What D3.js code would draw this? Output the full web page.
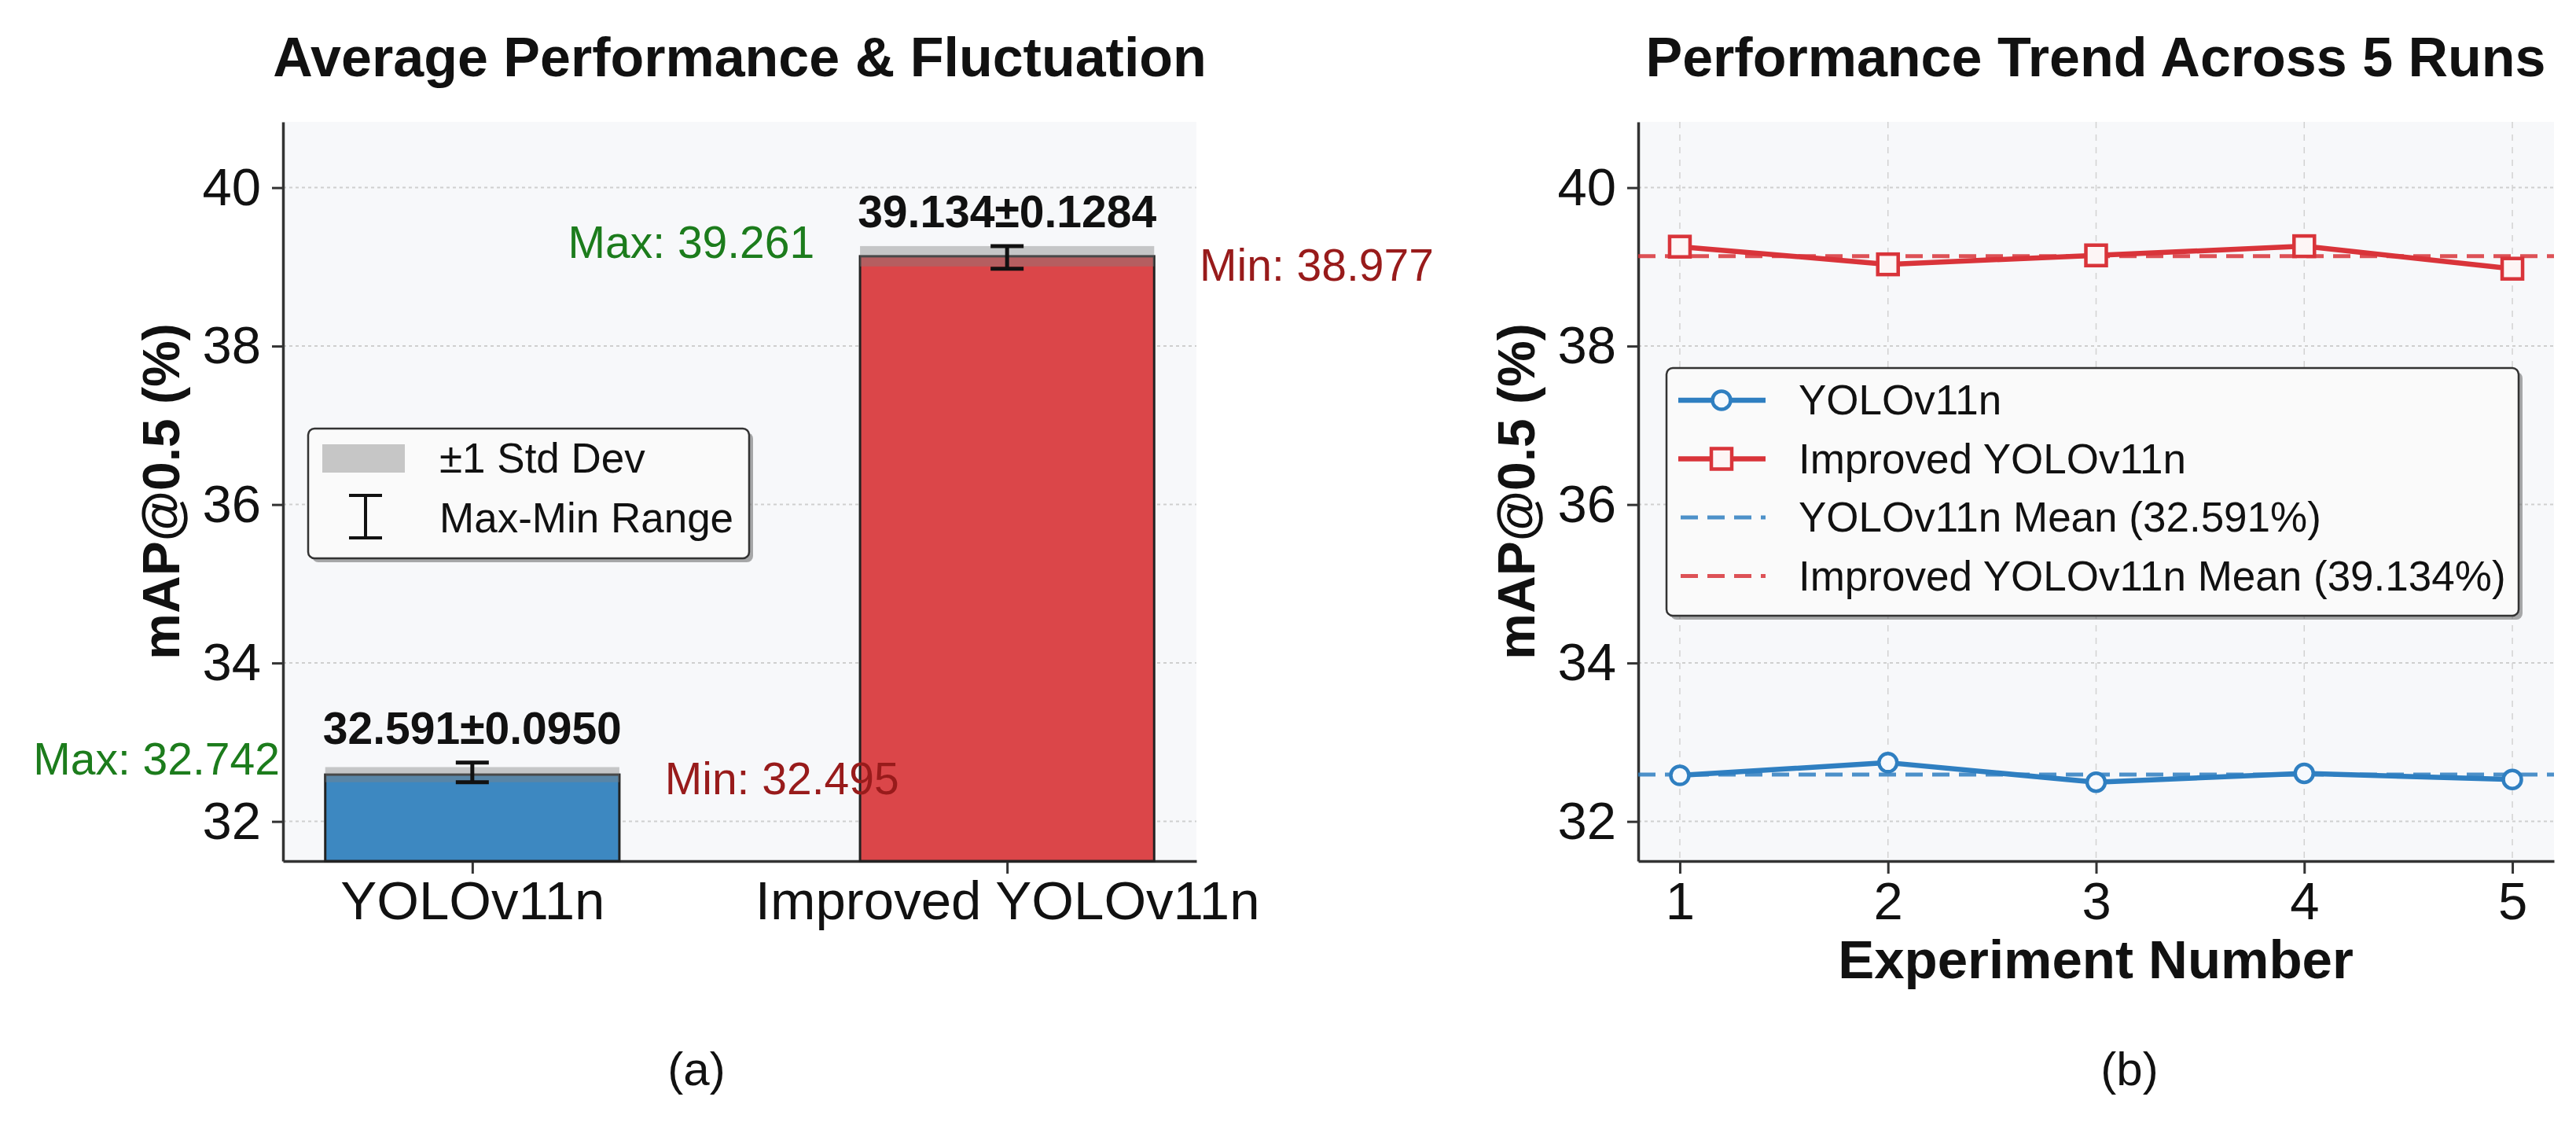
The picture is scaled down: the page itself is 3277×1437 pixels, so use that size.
<!DOCTYPE html>
<html lang="en">
<head>
<meta charset="utf-8">
<title>mAP@0.5 comparison</title>
<script src="https://d3js.org/d3.v7.min.js"></script>
<style>
  body{margin:0;background:#fff;}
  text{font-family:"Liberation Sans",Arial,sans-serif;fill:#111;}
</style>
</head>
<body>
<svg id="chart" width="3277" height="1437"></svg>
<script>
// ---- data ----
const models = ["YOLOv11n", "Improved YOLOv11n"];
const runs = [1, 2, 3, 4, 5];
const baseRuns = [32.581, 32.742, 32.495, 32.607, 32.530];
const improvedRuns = [39.255, 39.032, 39.145, 39.261, 38.977];
const yTicks = [32, 34, 36, 38, 40];
const titles = ["Average Performance & Fluctuation", "Performance Trend Across 5 Runs"];
const captions = ["(a)", "(b)"];
const yLabel = "mAP@0.5 (%)";
const xLabelRight = "Experiment Number";

const barColors = ["#3d88c1", "#db4649"];
const lineColors = ["#2f7fc1", "#d9343a"];

const stats = [baseRuns, improvedRuns].map(function(v, i){
  return {name: models[i], mean: d3.mean(v), std: d3.deviation(v), min: d3.min(v), max: d3.max(v)};
});

const svg = d3.select("#chart");
const plotTop = 155, plotBottom = 1095;

const y = d3.scaleLinear().domain([31.5, 40.83]).range([plotBottom, plotTop]);
const xL = d3.scaleLinear().domain([-0.354, 1.354]).range([360, 1522]);
const xR = d3.scaleLinear().domain([0.8, 5.2]).range([2084, 3249]);

function frame(x, xTicks, xFmt, vGrid){
  const g = svg.append("g");
  const x0 = x.range()[0], x1 = x.range()[1];
  g.append("rect").attr("x", x0).attr("y", plotTop).attr("width", x1 - x0).attr("height", plotBottom - plotTop)
    .attr("fill", "#f7f8fa");
  g.selectAll("line.hgrid").data(yTicks).join("line").attr("class", "hgrid")
    .attr("x1", x0).attr("x2", x1).attr("y1", d => y(d)).attr("y2", d => y(d))
    .attr("stroke", "#cfcfcf").attr("stroke-width", 2).attr("stroke-dasharray", "4,4");
  if(vGrid){
    g.selectAll("line.vgrid").data(xTicks).join("line").attr("class", "vgrid")
      .attr("x1", d => x(d)).attr("x2", d => x(d)).attr("y1", plotTop).attr("y2", plotBottom)
      .attr("stroke", "#d2d2d2").attr("stroke-width", 1.5).attr("stroke-dasharray", "8,8");
  }
  const ya = g.append("g").attr("transform", "translate(" + x0 + ",0)")
    .call(d3.axisLeft(y).tickValues(yTicks).tickSize(14).tickPadding(14).tickSizeOuter(0));
  const xa = g.append("g").attr("transform", "translate(0," + plotBottom + ")")
    .call(d3.axisBottom(x).tickValues(xTicks).tickFormat(xFmt).tickSize(16).tickSizeOuter(0));
  [ya, xa].forEach(function(a){
    a.select(".domain").attr("stroke", "#333").attr("stroke-width", 3.5);
    a.selectAll(".tick line").attr("stroke", "#333").attr("stroke-width", 3);
    a.selectAll("text").attr("font-family", "Liberation Sans, Arial, sans-serif").attr("fill", "#111");
  });
  ya.selectAll("text").attr("font-size", 67);
  xa.selectAll("text").attr("font-size", 69).attr("dy", null).attr("y", 74);
  return g;
}

// ---------- panel (a) ----------
const left = frame(xL, [0, 1], i => models[i], false);
const barW = 0.55;

left.selectAll("rect.bar").data(stats).join("rect").attr("class", "bar")
  .attr("x", (d, i) => xL(i - barW / 2)).attr("width", xL(barW) - xL(0))
  .attr("y", d => y(d.mean)).attr("height", d => plotBottom - y(d.mean))
  .attr("fill", (d, i) => barColors[i]).attr("stroke", "#222").attr("stroke-width", 3);

left.selectAll("rect.band").data(stats).join("rect").attr("class", "band")
  .attr("x", (d, i) => xL(i - barW / 2)).attr("width", xL(barW) - xL(0))
  .attr("y", d => y(d.mean + d.std)).attr("height", d => y(d.mean - d.std) - y(d.mean + d.std))
  .attr("fill", "#808080").attr("opacity", 0.42);

const eb = left.selectAll("g.err").data(stats).join("g").attr("class", "err")
  .attr("stroke", "#111").attr("stroke-width", 5);
eb.append("line").attr("x1", (d, i) => xL(i)).attr("x2", (d, i) => xL(i))
  .attr("y1", d => y(d.min)).attr("y2", d => y(d.max));
eb.append("line").attr("x1", (d, i) => xL(i) - 21).attr("x2", (d, i) => xL(i) + 21)
  .attr("y1", d => y(d.min)).attr("y2", d => y(d.min));
eb.append("line").attr("x1", (d, i) => xL(i) - 21).attr("x2", (d, i) => xL(i) + 21)
  .attr("y1", d => y(d.max)).attr("y2", d => y(d.max));

left.selectAll("text.val").data(stats).join("text").attr("class", "val")
  .attr("x", (d, i) => xL(i)).attr("y", d => y(Math.max(d.max, d.mean + d.std)) - 24)
  .attr("text-anchor", "middle").attr("font-size", 57).attr("font-weight", "bold")
  .text(d => d.mean.toFixed(3) + "\u00b1" + d.std.toFixed(4));

left.selectAll("text.maxl").data(stats).join("text").attr("class", "maxl")
  .attr("x", (d, i) => xL(i - barW / 2 - 0.085)).attr("y", d => y(d.max) - 5).attr("dy", "0.35em")
  .attr("text-anchor", "end").attr("font-size", 57).style("fill", "#1c7c1c")
  .text(d => "Max: " + d.max.toFixed(3));

left.selectAll("text.minl").data(stats).join("text").attr("class", "minl")
  .attr("x", (d, i) => xL(i + barW / 2 + 0.085)).attr("y", d => y(d.min) - 5).attr("dy", "0.35em")
  .attr("text-anchor", "start").attr("font-size", 57).style("fill", "#981b1b")
  .text(d => "Min: " + d.min.toFixed(3));

// legend (a)
const lgA = svg.append("g").attr("transform", "translate(392,545)");
lgA.append("rect").attr("x", 5).attr("y", 5).attr("width", 561).attr("height", 165).attr("rx", 8)
  .attr("fill", "#555").attr("opacity", 0.5);
lgA.append("rect").attr("width", 561).attr("height", 165).attr("rx", 8)
  .attr("fill", "#fafafa").attr("stroke", "#333").attr("stroke-width", 2.5);
lgA.append("rect").attr("x", 18).attr("y", 20).attr("width", 105).attr("height", 36).attr("fill", "#c6c6c6");
const li = lgA.append("g").attr("stroke", "#111").attr("stroke-width", 4);
li.append("line").attr("x1", 73).attr("x2", 73).attr("y1", 85).attr("y2", 139);
li.append("line").attr("x1", 52).attr("x2", 94).attr("y1", 85).attr("y2", 85);
li.append("line").attr("x1", 52).attr("x2", 94).attr("y1", 139).attr("y2", 139);
lgA.append("text").attr("x", 167).attr("y", 56).attr("font-size", 53).text("\u00b11 Std Dev");
lgA.append("text").attr("x", 167).attr("y", 132).attr("font-size", 53).text("Max-Min Range");

// ---------- panel (b) ----------
const right = frame(xR, runs, d3.format("d"), true);
right.selectAll(".tick text").attr("font-size", 67);

right.selectAll("line.mean").data(stats).join("line").attr("class", "mean")
  .attr("x1", xR.range()[0]).attr("x2", xR.range()[1])
  .attr("y1", d => y(d.mean)).attr("y2", d => y(d.mean))
  .attr("stroke", (d, i) => lineColors[i]).attr("stroke-width", 5)
  .attr("stroke-dasharray", "22,12").attr("opacity", 0.85);

const line = d3.line().x((d, i) => xR(runs[i])).y(d => y(d));
right.append("path").datum(baseRuns).attr("d", line).attr("fill", "none")
  .attr("stroke", lineColors[0]).attr("stroke-width", 6.5).attr("stroke-linejoin", "round");
right.append("path").datum(improvedRuns).attr("d", line).attr("fill", "none")
  .attr("stroke", lineColors[1]).attr("stroke-width", 6.5).attr("stroke-linejoin", "round");

right.selectAll("circle.pt").data(baseRuns).join("circle").attr("class", "pt")
  .attr("cx", (d, i) => xR(runs[i])).attr("cy", d => y(d)).attr("r", 11.5)
  .attr("fill", "#f6f9fd").attr("stroke", lineColors[0]).attr("stroke-width", 4.5);
right.selectAll("rect.pt").data(improvedRuns).join("rect").attr("class", "pt")
  .attr("x", (d, i) => xR(runs[i]) - 13).attr("y", d => y(d) - 13).attr("width", 26).attr("height", 26)
  .attr("fill", "#fdf5f5").attr("stroke", lineColors[1]).attr("stroke-width", 4.5);

// legend (b)
const lgB = svg.append("g").attr("transform", "translate(2120,468)");
lgB.append("rect").attr("x", 5).attr("y", 5).attr("width", 1084).attr("height", 315).attr("rx", 8)
  .attr("fill", "#555").attr("opacity", 0.5);
lgB.append("rect").attr("width", 1084).attr("height", 315).attr("rx", 8)
  .attr("fill", "#fafafa").attr("stroke", "#333").attr("stroke-width", 2.5);
const lgLabels = [models[0], models[1],
  models[0] + " Mean (" + stats[0].mean.toFixed(3) + "%)",
  models[1] + " Mean (" + stats[1].mean.toFixed(3) + "%)"];
lgLabels.forEach(function(t, i){
  const base = 59 + i * 74.5, cy = base - 18;
  const c = lineColors[i % 2];
  const h = lgB.append("line").attr("x1", 15).attr("x2", 126).attr("y1", cy).attr("y2", cy).attr("stroke", c);
  if(i < 2){
    h.attr("stroke-width", 6.5);
    if(i === 0){
      lgB.append("circle").attr("cx", 70).attr("cy", cy).attr("r", 11.5)
        .attr("fill", "#f6f9fd").attr("stroke", c).attr("stroke-width", 4.5);
    } else {
      lgB.append("rect").attr("x", 57).attr("y", cy - 13).attr("width", 26).attr("height", 26)
        .attr("fill", "#fdf5f5").attr("stroke", c).attr("stroke-width", 4.5);
    }
  } else {
    h.attr("x1", 18).attr("stroke-width", 5).attr("stroke-dasharray", "22,12").attr("opacity", 0.85);
  }
  lgB.append("text").attr("x", 168).attr("y", base).attr("font-size", 53).text(t);
});

// ---------- titles, labels, captions ----------
[941, 2666].forEach(function(cx, i){
  svg.append("text").attr("x", cx).attr("y", 97).attr("text-anchor", "middle")
    .attr("font-size", 70).attr("font-weight", "bold").text(titles[i]);
});
[228, 1952].forEach(function(bx){
  svg.append("text").attr("transform", "translate(" + bx + ",625) rotate(-90)")
    .attr("text-anchor", "middle").attr("font-size", 66).attr("font-weight", "bold").text(yLabel);
});
svg.append("text").attr("x", 2666).attr("y", 1244).attr("text-anchor", "middle")
  .attr("font-size", 69).attr("font-weight", "bold").text(xLabelRight);
[886, 2709].forEach(function(cx, i){
  svg.append("text").attr("x", cx).attr("y", 1380).attr("text-anchor", "middle")
    .attr("font-size", 60).text(captions[i]);
});
</script>
</body>
</html>
